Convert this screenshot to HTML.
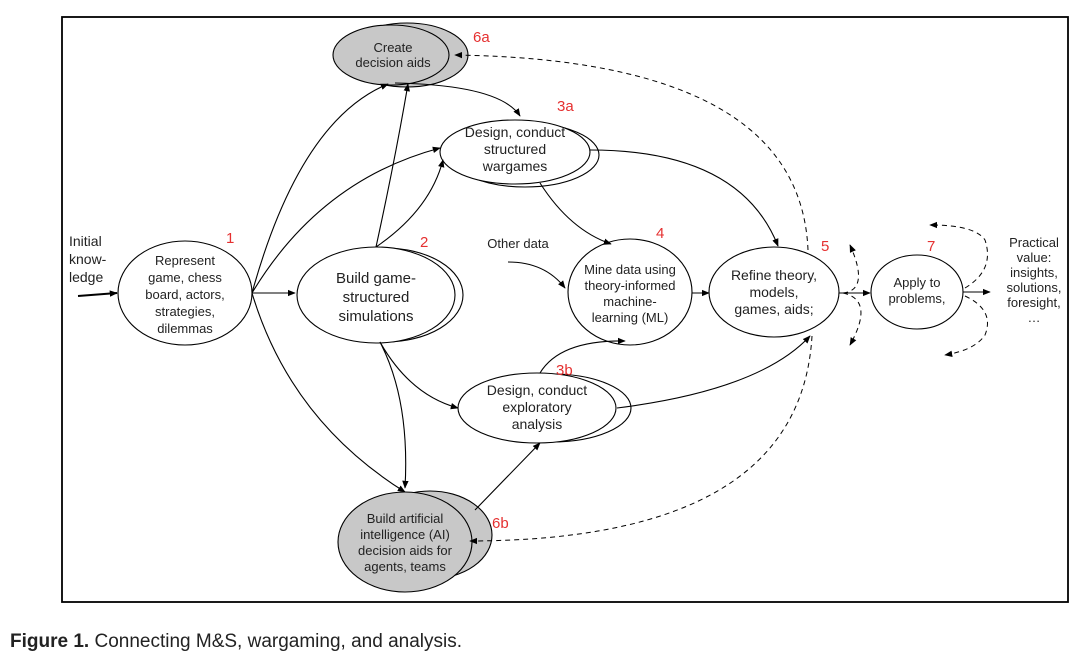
<!DOCTYPE html>
<html><head><meta charset="utf-8"><style>
html,body{margin:0;padding:0;background:#fff;}
svg{display:block;font-family:"Liberation Sans",sans-serif;}
</style></head><body>
<svg width="1080" height="660" viewBox="0 0 1080 660" xmlns="http://www.w3.org/2000/svg">
<defs>
<marker id="a" viewBox="0 0 10 10" refX="9" refY="5" markerWidth="8" markerHeight="8" orient="auto-start-reverse" markerUnits="userSpaceOnUse"><path d="M0,1 L10,5 L0,9 z" fill="#000"/></marker>
</defs>
<rect x="62" y="17" width="1006" height="585" fill="none" stroke="#000" stroke-width="1.8"/>
<g fill="none" stroke="#000" stroke-width="1.1">
<ellipse cx="407" cy="55" rx="61" ry="32" fill="#c8c8c8"/>
<ellipse cx="391" cy="55" rx="58" ry="30" fill="#c8c8c8"/>
<ellipse cx="525" cy="155" rx="74" ry="32" fill="#fff"/>
<ellipse cx="515" cy="152" rx="75" ry="32" fill="#fff"/>
<ellipse cx="385" cy="295" rx="78" ry="47" fill="#fff"/>
<ellipse cx="376" cy="295" rx="79" ry="48" fill="#fff"/>
<ellipse cx="185" cy="293" rx="67" ry="52" fill="#fff"/>
<ellipse cx="630" cy="292" rx="62" ry="53" fill="#fff"/>
<ellipse cx="774" cy="292" rx="65" ry="45" fill="#fff"/>
<ellipse cx="917" cy="292" rx="46" ry="37" fill="#fff"/>
<ellipse cx="552" cy="408" rx="79" ry="34" fill="#fff"/>
<ellipse cx="537" cy="408" rx="79" ry="35" fill="#fff"/>
<ellipse cx="430" cy="535" rx="62" ry="44" fill="#c8c8c8"/>
<ellipse cx="405" cy="542" rx="67" ry="50" fill="#c8c8c8"/>
</g>
<g fill="none" stroke="#000" stroke-width="1.1" marker-end="url(#a)">
<path d="M78,296 L117,293" stroke-width="2"/>
<path d="M252,293 L295,293"/>
<path d="M252,293 Q300,120 388,84"/>
<path d="M252,293 Q320,180 440,148"/>
<path d="M252,293 Q290,420 405,492"/>
<path d="M376,247 Q395,160 408,84"/>
<path d="M376,247 Q430,210 443,160"/>
<path d="M380,342 Q410,400 405,488"/>
<path d="M380,342 Q410,395 458,408"/>
<path d="M395,83 Q500,85 520,116"/>
<path d="M540,183 Q570,230 611,244"/>
<path d="M590,150 Q740,150 778,246"/>
<path d="M508,262 Q545,262 565,288"/>
<path d="M540,373 Q560,340 625,341"/>
<path d="M617,408 Q760,390 810,336"/>
<path d="M475,510 L540,443"/>
<path d="M692,293 L709,293"/>
<path d="M839,293 L870,293"/>
<path d="M963,292 L990,292"/>
</g>
<g fill="none" stroke="#000" stroke-width="1" stroke-dasharray="5,4" marker-end="url(#a)">
<path d="M808,250 Q800,60 455,55"/>
<path d="M812,336 Q800,540 470,541"/>
<path d="M843,293 Q870,290 850,245"/>
<path d="M843,293 Q875,300 850,345"/>
<path d="M965,288 Q995,270 985,240 Q975,225 930,225"/>
<path d="M965,296 Q995,310 985,335 Q975,350 945,355"/>
</g>
<g font-size="13" fill="#222" text-anchor="middle">
<text x="393" y="52">Create</text><text x="393" y="67">decision aids</text>
<text x="515" y="137" font-size="14">Design, conduct</text><text x="515" y="154" font-size="14">structured</text><text x="515" y="171" font-size="14">wargames</text>
<text x="185" y="265">Represent</text><text x="185" y="282">game, chess</text><text x="185" y="299">board, actors,</text><text x="185" y="316">strategies,</text><text x="185" y="333">dilemmas</text>
<text x="376" y="283" font-size="15">Build game-</text><text x="376" y="302" font-size="15">structured</text><text x="376" y="321" font-size="15">simulations</text>
<text x="630" y="274">Mine data using</text><text x="630" y="290">theory-informed</text><text x="630" y="306">machine-</text><text x="630" y="322">learning (ML)</text>
<text x="774" y="280" font-size="14">Refine theory,</text><text x="774" y="297" font-size="14">models,</text><text x="774" y="314" font-size="14">games, aids;</text>
<text x="917" y="287">Apply to</text><text x="917" y="303">problems,</text>
<text x="537" y="395" font-size="14">Design, conduct</text><text x="537" y="412" font-size="14">exploratory</text><text x="537" y="429" font-size="14">analysis</text>
<text x="405" y="523">Build artificial</text><text x="405" y="539">intelligence (AI)</text><text x="405" y="555">decision aids for</text><text x="405" y="571">agents, teams</text>
<text x="1034" y="247">Practical</text><text x="1034" y="262">value:</text><text x="1034" y="277">insights,</text><text x="1034" y="292">solutions,</text><text x="1034" y="307">foresight,</text><text x="1034" y="322">…</text>
<text x="518" y="248">Other data</text>
</g>
<g font-size="14" fill="#222">
<text x="69" y="246">Initial</text><text x="69" y="264">know-</text><text x="69" y="282">ledge</text>
</g>
<g font-size="15" fill="#e53030">
<text x="473" y="42">6a</text><text x="557" y="111">3a</text><text x="226" y="243">1</text><text x="420" y="247">2</text>
<text x="656" y="238">4</text><text x="821" y="251">5</text><text x="927" y="251">7</text><text x="556" y="375">3b</text><text x="492" y="528">6b</text>
</g>
<text x="10" y="647" font-size="19" fill="#222"><tspan font-weight="bold">Figure 1.</tspan>  Connecting M&amp;S, wargaming, and analysis.</text>
</svg>
</body></html>
